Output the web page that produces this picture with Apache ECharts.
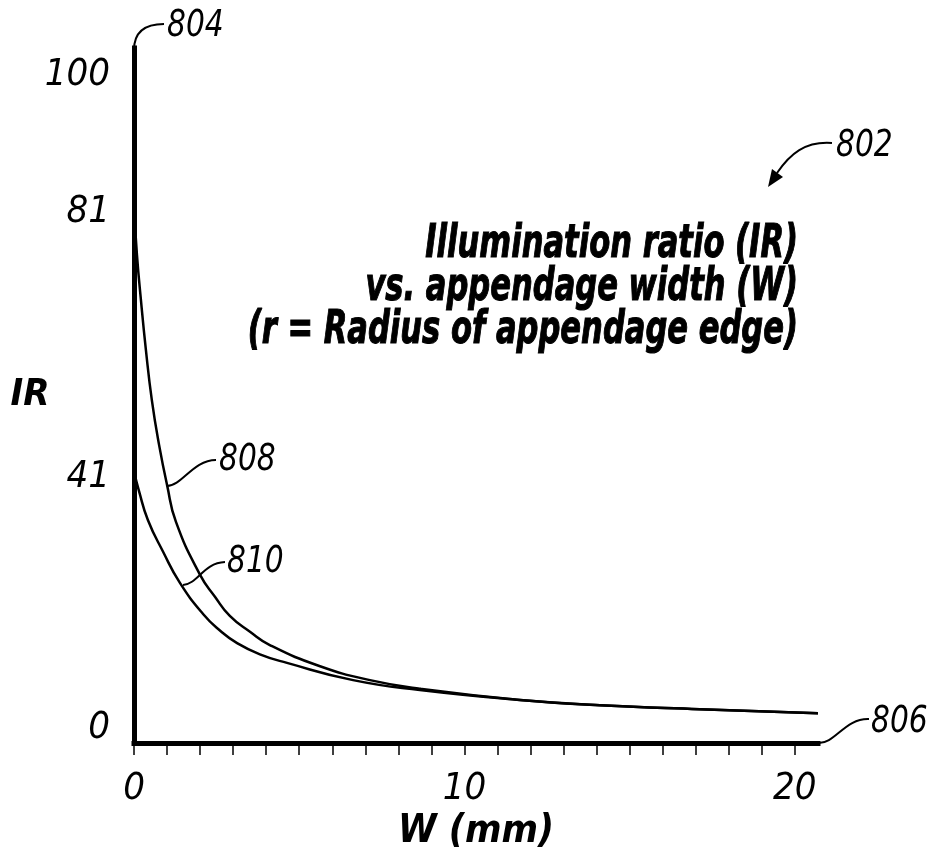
<!DOCTYPE html>
<html>
<head>
<meta charset="utf-8">
<script src="https://cdn.jsdelivr.net/npm/echarts@6/dist/echarts.min.js"></script>
<style>
  html, body { margin: 0; padding: 0; background: #fff; }
  #chart { width: 935px; height: 862px; }
</style>
</head>
<body>
<div id="chart"></div>
<script>
// curve 808 (upper) and 810 (lower): W in mm, IR
var w808 = [0, 0.09, 0.21, 0.36, 0.54, 0.76, 1.00, 1.27, 2.00, 2.45, 2.90, 3.51, 4.11, 5.63, 7.14, 8.65, 11.68, 14.10, 17.12, 20.7];
var ir808 = [81, 73.7, 66.9, 59.4, 51.8, 45.0, 39.0, 33.4, 25.4, 22.1, 19.2, 16.8, 14.8, 11.6, 9.5, 8.2, 6.5, 5.7, 5.1, 4.5];
var w810 = [0, 0.15, 0.42, 0.88, 1.39, 2.09, 2.60, 3.12, 3.81, 4.63, 6.63, 8.65, 11.68, 14.10, 17.12, 20.7];
var ir810 = [41, 38.1, 33.7, 28.9, 24.2, 19.5, 17.0, 15.1, 13.4, 12.1, 9.5, 8.0, 6.5, 5.7, 5.1, 4.5];

// axis ticks / labels
var yLabels = [0, 41, 81, 100];
var xLabels = [0, 10, 20];
var xTicks = [0, 1, 2, 3, 4, 5, 6, 7, 8, 9, 10, 11, 12, 13, 14, 15, 16, 17, 18, 19, 20];

var titleLines = ['Illumination ratio (IR)', 'vs. appendage width (W)', '(r = Radius of appendage edge)'];

var FONT = '"Liberation Sans Narrow", "Arial Narrow", "DejaVu Sans Condensed", sans-serif';

function zip(xs, ys) {
  return xs.map(function (x, i) { return [x, ys[i]]; });
}

// the y labels in the drawing sit a little off their values
var yNudge = { 0: 'up15', 41: 'dn6', 81: 'dn5', 100: 'up6' };
var labelFont = { fontFamily: FONT, fontStyle: 'italic', fontSize: 38, color: '#000' };
function rich(pad) {
  return Object.assign({ padding: pad }, labelFont);
}

var chart = echarts.init(document.getElementById('chart'));

var graphics = [];
// title, right aligned
titleLines.forEach(function (t, i) {
  graphics.push({
    type: 'text', x: 798, y: 245 + i * 43, scaleY: 1.35,
    style: { text: t, x: 0, y: 0, align: 'right', verticalAlign: 'middle',
      font: 'italic bold 34px ' + FONT, fill: '#000', stroke: '#000', lineWidth: 0.8 }
  });
});
// reference numerals
var refs = [
  { t: '804', x: 167, y: 26 },
  { t: '808', x: 219, y: 460 },
  { t: '810', x: 227, y: 562 },
  { t: '806', x: 871, y: 722 },
  { t: '802', x: 836, y: 146 }
];
refs.forEach(function (r) {
  graphics.push({
    type: 'text', x: r.x, y: r.y, scaleY: 1.15,
    style: { text: r.t, align: 'left', verticalAlign: 'middle',
      font: 'italic 33px ' + FONT, fill: '#000' }
  });
});
// leader lines
var leaders = [
  [134, 50, 134, 32, 145, 24, 164, 24],
  [167, 486, 182, 486, 193, 460, 216, 460],
  [183, 585, 198, 584, 203, 563, 225, 562],
  [818, 743, 835, 744, 845, 718, 869, 719],
  [832, 143, 805, 141, 790, 154, 777, 173]
];
leaders.forEach(function (l) {
  graphics.push({
    type: 'bezierCurve',
    shape: { x1: l[0], y1: l[1], cpx1: l[2], cpy1: l[3], cpx2: l[4], cpy2: l[5], x2: l[6], y2: l[7] },
    style: { stroke: '#000', lineWidth: 2, fill: null }
  });
});
// arrow head for 802
graphics.push({
  type: 'polygon',
  shape: { points: [[768, 187], [783, 177], [772, 169]] },
  style: { fill: '#000' }
});

chart.setOption({
  backgroundColor: '#fff',
  animation: false,
  grid: { left: 134, right: 117, top: 48, bottom: 119, containLabel: false, outerBoundsMode: 'none' },
  xAxis: {
    type: 'value', min: 0, max: 20.7,
    name: 'W (mm)', nameLocation: 'middle', nameGap: 89, nameMoveOverlap: false,
    nameTextStyle: { fontFamily: FONT, fontStyle: 'italic', fontWeight: 'bold', fontSize: 39,
      color: '#000', verticalAlign: 'middle' },
    axisLine: { lineStyle: { color: '#000', width: 5, cap: 'square' } },
    axisTick: { show: true, customValues: xTicks, length: 12, lineStyle: { color: '#000', width: 1.5 } },
    axisLabel: Object.assign({ customValues: xLabels, margin: 27 }, labelFont),
    splitLine: { show: false }
  },
  yAxis: {
    type: 'value', min: 0, max: 105,
    name: 'IR', nameLocation: 'middle', nameGap: 104, nameRotate: 0, nameMoveOverlap: false,
    nameTextStyle: { fontFamily: FONT, fontStyle: 'italic', fontWeight: 'bold', fontSize: 38,
      color: '#000', align: 'center', verticalAlign: 'middle' },
    axisLine: { lineStyle: { color: '#000', width: 5, cap: 'square' } },
    axisTick: { show: false },
    axisLabel: Object.assign({
      customValues: yLabels, margin: 24,
      formatter: function (v) { return '{' + yNudge[v] + '|' + v + '}'; },
      rich: {
        up15: rich([0, 0, 30, 0]),
        up6: rich([0, 0, 12, 0]),
        dn5: rich([10, 0, 0, 0]),
        dn6: rich([12, 0, 0, 0])
      }
    }, labelFont),
    splitLine: { show: false }
  },
  series: [
    { name: '808', type: 'line', data: zip(w808, ir808), smooth: 0.5, showSymbol: false,
      lineStyle: { color: '#000', width: 2.5 }, z: 1 },
    { name: '810', type: 'line', data: zip(w810, ir810), smooth: 0.5, showSymbol: false,
      lineStyle: { color: '#000', width: 2.5 }, z: 1 }
  ],
  graphic: graphics
});
</script>
</body>
</html>
